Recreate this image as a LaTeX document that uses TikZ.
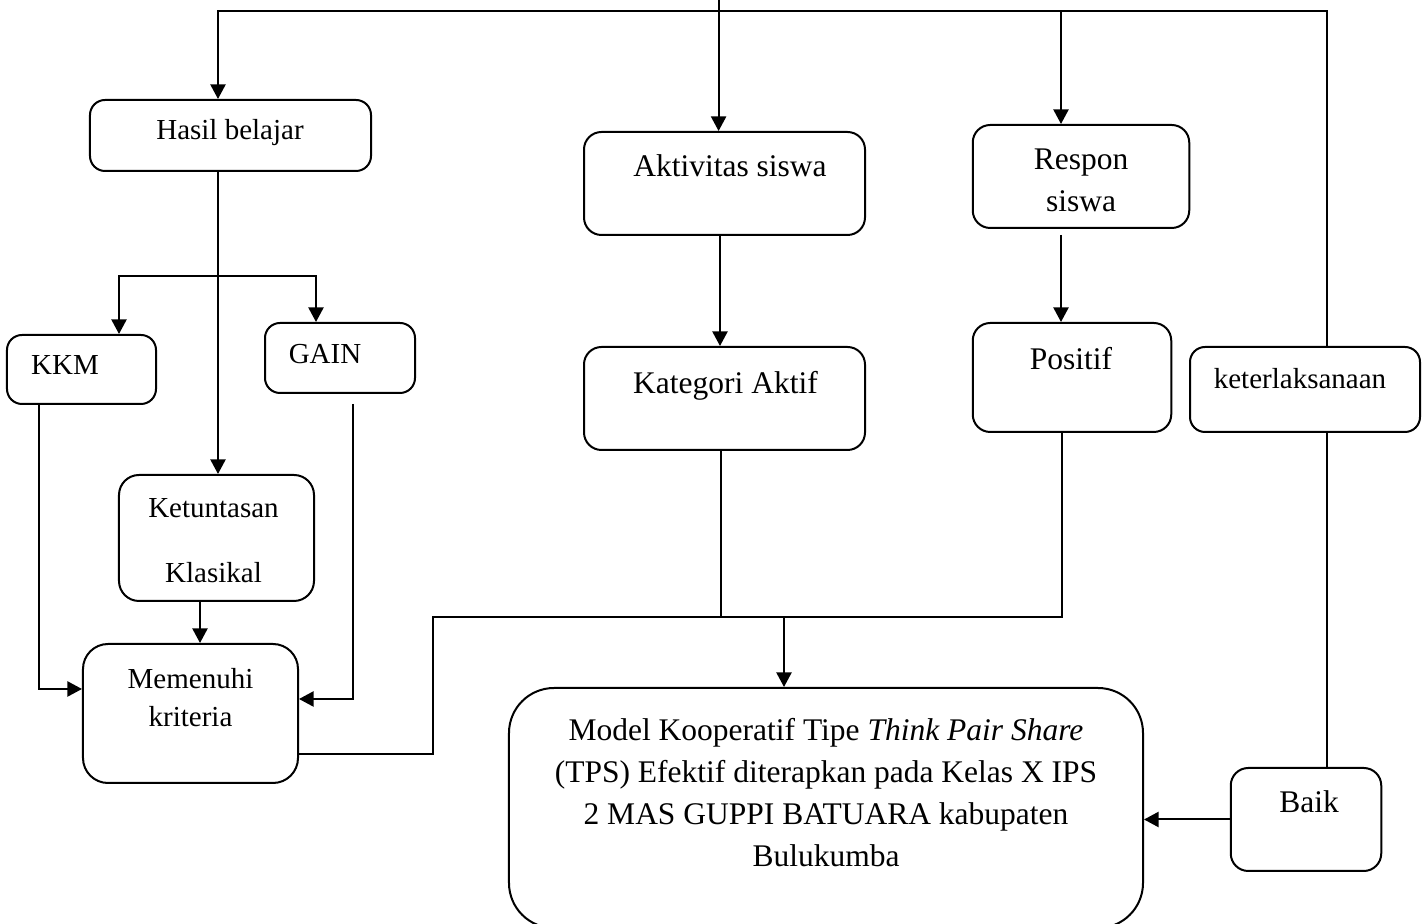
\documentclass[tikz,border=0pt]{standalone}
\usepackage{fontspec}
\setmainfont{Liberation Serif}
\usetikzlibrary{arrows.meta}
\tikzset{
  box/.style={draw, line width=0.8pt, rounded corners=#1, inner sep=0pt},
  box/.default=6pt,
  arr/.style={-{Triangle[length=5.8pt,width=6pt]}},
  txt/.style={anchor=base, inner sep=0pt, font=\fontsize{11.6}{14}\selectfont},
  bigtxt/.style={anchor=base, inner sep=0pt, font=\fontsize{12.6}{15}\selectfont},
}

\begin{document}
\begin{tikzpicture}[x=0.4pt, y=-0.4pt, line width=0.8pt]
    \useasboundingbox (0,0) rectangle (1428,924);
    \node[box, minimum width=112.4pt, minimum height=28.4pt] (hasil) at (230.5,135.5) {};
    \node[box, minimum width=59.6pt, minimum height=27.6pt] (kkm) at (81.5,369.5) {};
    \node[box, minimum width=60pt, minimum height=28pt] (gain) at (340,358) {};
    \node[box=8pt, minimum width=78pt, minimum height=50.4pt] (tuntas) at (216.5,538) {};
    \node[box=10pt, minimum width=86pt, minimum height=55.6pt] (kriteria) at (190.5,713.5) {};
    \node[box=7pt, minimum width=112.4pt, minimum height=41.2pt] (aktivitas) at (724.5,183.5) {};
    \node[box=7pt, minimum width=112.4pt, minimum height=41.2pt] (kategori) at (724.5,398.5) {};
    \node[box=7pt, minimum width=86.6pt, minimum height=41.2pt] (respon) at (1081,176.5) {};
    \node[box=7pt, minimum width=79.4pt, minimum height=43.6pt] (positif) at (1072,377.5) {};
    \node[box, minimum width=92pt, minimum height=34pt] (laksana) at (1305,389.5) {};
    \node[box=7pt, minimum width=60.2pt, minimum height=41.2pt] (baik) at (1306,819.5) {};
    \node[box=18pt, minimum width=253.6pt, minimum height=96pt] (model) at (826,808) {};

    \node[txt] (t-hasil) at (230,140) {Hasil belajar};
    \node[txt] (t-kkm) at (65,375) {KKM};
    \node[txt] (t-gain) at (325,364) {GAIN};
    \node[txt, anchor=center, align=center, font=\fontsize{11.6}{25.8}\selectfont] (t-tuntas) at (213.5,540.9) {Ketuntasan\\Klasikal};
    \node[txt, anchor=center, align=center, font=\fontsize{11.6}{15.4}\selectfont] (t-kriteria) at (190.5,697.6) {Memenuhi\\kriteria};
    \node[bigtxt] (t-aktivitas) at (730,176.7) {Aktivitas siswa};
    \node[bigtxt] (t-kategori) at (725.5,393.3) {Kategori Aktif};
    \node[bigtxt, anchor=center, align=center, font=\fontsize{12.6}{16.7}\selectfont] (t-respon) at (1081,180.4) {Respon\\siswa};
    \node[bigtxt] (t-positif) at (1071,369.3) {Positif};
    \node[txt] (t-laksana) at (1300,388.3) {keterlaksanaan};
    \node[bigtxt] (t-baik) at (1309,812.7) {Baik};
    \node[bigtxt, anchor=center, align=center, font=\fontsize{12.6}{16.9}\selectfont] (t-model) at (826,792.6)
      {Model Kooperatif Tipe \textit{Think Pair Share}\\(TPS) Efektif diterapkan pada Kelas X IPS\\2 MAS GUPPI BATUARA kabupaten\\Bulukumba};

    \coordinate (src) at (718.6,0);
    \coordinate (bus) at (718.6,11);
    \coordinate (cab) at (218,276);
    \coordinate (elbow) at (432.5,617);
    \coordinate (gab) at (784,617);

    \draw[arr] (src) -- (src |- aktivitas.north);
    \draw[arr] (bus) -| ([xshift=-5pt]hasil.north);
    \draw[arr] (bus) -| ([xshift=-8pt]respon.north);
    \draw (bus) -| ([xshift=8.8pt]laksana.north);
    \draw[arr] ([xshift=-5pt]hasil.south) -- ([xshift=-5pt]hasil.south |- tuntas.north);
    \draw[arr] (cab) -| ([xshift=15pt]kkm.north);
    \draw[arr] (cab) -| ([xshift=-9.6pt]gain.north);
    \draw[arr] ([xshift=-17pt]kkm.south) |- ([yshift=9.8pt]kriteria.west);
    \draw[arr] ([xshift=5.2pt,yshift=-4pt]gain.south) |- ([yshift=5.8pt]kriteria.east);
    \draw[arr] ([xshift=-6.6pt]tuntas.south) -- ([xshift=-6.6pt]tuntas.south |- kriteria.north);
    \draw[arr] ([xshift=-1.8pt]aktivitas.south) -- ([xshift=-1.8pt]aktivitas.south |- kategori.north);
    \draw[arr] ([xshift=-8pt,yshift=-2.4pt]respon.south) -- ([xshift=-8pt]respon.south |- positif.north);
    \draw ([yshift=-16.2pt]kriteria.east) -| (elbow) -- (gab);
    \draw ([xshift=-1.4pt]kategori.south) |- (gab);
    \draw ([xshift=-4pt]positif.south) |- (gab);
    \draw[arr] (gab) -- (gab |- model.north);
    \draw ([xshift=8.8pt]laksana.south) -- ([xshift=8.8pt]laksana.south |- baik.north);
    \draw[arr] (baik.west) -- (baik.west -| model.east);
\end{tikzpicture}
\end{document}
